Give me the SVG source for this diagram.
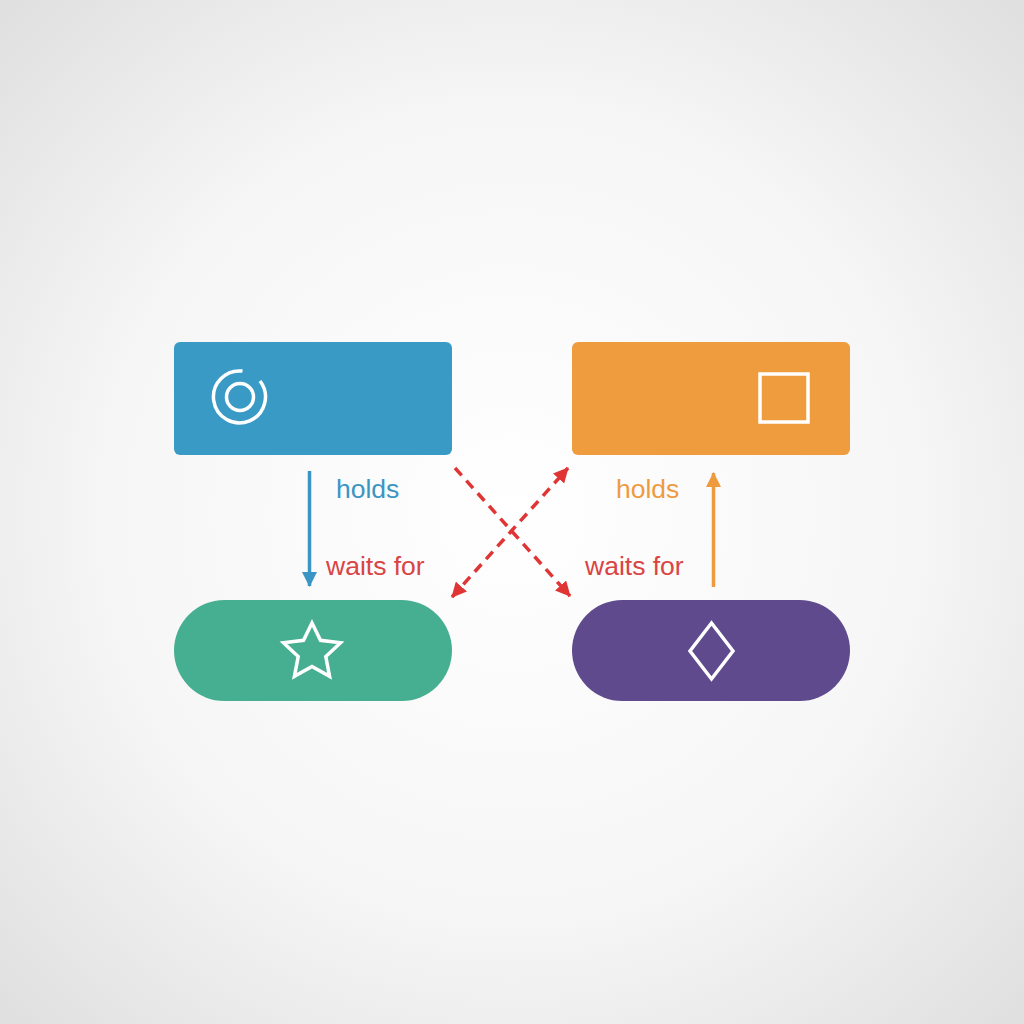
<svg xmlns="http://www.w3.org/2000/svg" width="1024" height="1024" viewBox="0 0 1024 1024">
<defs>
<radialGradient id="bg" cx="50%" cy="50%" r="72%">
<stop offset="0" stop-color="#ffffff"/>
<stop offset="0.55" stop-color="#f6f6f6"/>
<stop offset="1" stop-color="#dedede"/>
</radialGradient>
<marker id="ahOrange" viewBox="0 0 16 16" refX="15" refY="8" markerWidth="15" markerHeight="15" orient="auto" markerUnits="userSpaceOnUse">
<path d="M0,0 L16,8 L0,16 Z" fill="#EE9B40"/>
</marker>
<marker id="ahBlue2" viewBox="0 0 16 16" refX="15" refY="8" markerWidth="15" markerHeight="15" orient="auto" markerUnits="userSpaceOnUse">
<path d="M0,0 L16,8 L0,16 Z" fill="#3A95C4"/>
</marker>
<marker id="ahRed" viewBox="0 0 16 16" refX="15" refY="8" markerWidth="15" markerHeight="15" orient="auto" markerUnits="userSpaceOnUse">
<path d="M0,0 L16,8 L0,16 Z" fill="#E03535"/>
</marker>
<marker id="ahRedStart" viewBox="0 0 16 16" refX="1" refY="8" markerWidth="15" markerHeight="15" orient="auto" markerUnits="userSpaceOnUse">
<path d="M16,0 L0,8 L16,16 Z" fill="#E03535"/>
</marker>
</defs>
<style>
.lbl{font-family:"Liberation Sans",Arial,sans-serif;font-size:26.5px}
.icon{fill:none;stroke:#ffffff;stroke-width:3.5}
.dash{stroke:#E03535;stroke-width:3.5;stroke-dasharray:10,7;fill:none}
</style>
<rect width="1024" height="1024" fill="url(#bg)"/>

<g id="node-blue">
<rect x="174" y="342" width="278" height="113" rx="6" fill="#3A9AC6"/>
<circle class="icon" cx="240" cy="397" r="13.5"/>
<path class="icon" d="M242.5,371.1 A26,26 0 1 0 260,381"/>
</g>

<g id="node-orange">
<rect x="572" y="342" width="278" height="113" rx="6" fill="#EF9C3E"/>
<rect class="icon" x="760" y="374" width="48" height="48"/>
</g>

<g id="node-green">
<rect x="174" y="600" width="278" height="101" rx="50.5" fill="#46AE91"/>
<path class="icon" stroke-linejoin="miter" d="M312,623 L320.5,640.3 L340.5,642.7 L325.8,656.5 L329.6,676.3 L312,666.5 L294.4,676.3 L298.2,656.5 L283.5,642.7 L303.5,640.3 Z"/>
</g>

<g id="node-purple">
<rect x="572" y="600" width="278" height="101" rx="50.5" fill="#5E4A8C"/>
<path class="icon" d="M711.5,623 L733,651 L711.5,679 L690,651 Z"/>
</g>

<g id="connectors">
<line x1="309.5" y1="471" x2="309.5" y2="586" stroke="#3A95C4" stroke-width="3.5" marker-end="url(#ahBlue2)"/>
<line x1="713.5" y1="587" x2="713.5" y2="473" stroke="#EE9B40" stroke-width="3.5" marker-end="url(#ahOrange)"/>
<line class="dash" x1="455" y1="468" x2="570" y2="596" marker-end="url(#ahRed)"/>
<line class="dash" x1="452" y1="597" x2="568" y2="468" marker-start="url(#ahRedStart)" marker-end="url(#ahRed)"/>
</g>

<g id="labels">
<text class="lbl" x="336" y="498" fill="#3A95C4">holds</text>
<text class="lbl" x="326" y="575" fill="#D94444">waits for</text>
<text class="lbl" x="616" y="498" fill="#EE9B40">holds</text>
<text class="lbl" x="585" y="575" fill="#D94444">waits for</text>
</g>
</svg>
